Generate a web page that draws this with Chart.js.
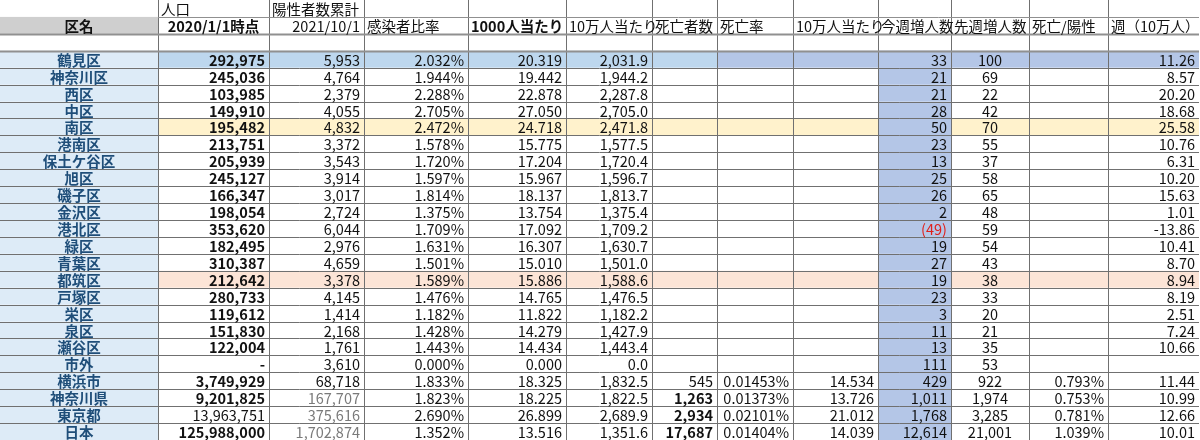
<!DOCTYPE html>
<html><head><meta charset="utf-8">
<script src="https://cdn.jsdelivr.net/npm/chart.js@4"></script>
<style>html,body{margin:0;padding:0;background:#fff}#w{width:1200px;height:440px}</style>
</head><body><div id="w"><canvas id="c"></canvas></div>
<script>
const headers1 = ["", "人口", "陽性者数累計", "", "", "", "", "", "", "", "", "", ""];
const headers2 = ["区名", "2020/1/1時点", "2021/10/1", "感染者比率", "1000人当たり", "10万人当たり", "死亡者数", "死亡率", "10万人当たり", "今週増人数", "先週増人数", "死亡/陽性", "週（10万人）"];
const districts = ["鶴見区","神奈川区","西区","中区","南区","港南区","保土ケ谷区","旭区","磯子区","金沢区","港北区","緑区","青葉区","都筑区","戸塚区","栄区","泉区","瀬谷区","市外","横浜市","神奈川県","東京都","日本"];
const population = ["292,975","245,036","103,985","149,910","195,482","213,751","205,939","245,127","166,347","198,054","353,620","182,495","310,387","212,642","280,733","119,612","151,830","122,004","-","3,749,929","9,201,825","13,963,751","125,988,000"];
const positives = ["5,953","4,764","2,379","4,055","4,832","3,372","3,543","3,914","3,017","2,724","6,044","2,976","4,659","3,378","4,145","1,414","2,168","1,761","3,610","68,718","167,707","375,616","1,702,874"];
const infectionRate = ["2.032%","1.944%","2.288%","2.705%","2.472%","1.578%","1.720%","1.597%","1.814%","1.375%","1.709%","1.631%","1.501%","1.589%","1.476%","1.182%","1.428%","1.443%","0.000%","1.833%","1.823%","2.690%","1.352%"];
const per1000 = ["20.319","19.442","22.878","27.050","24.718","15.775","17.204","15.967","18.137","13.754","17.092","16.307","15.010","15.886","14.765","11.822","14.279","14.434","0.000","18.325","18.225","26.899","13.516"];
const per100k = ["2,031.9","1,944.2","2,287.8","2,705.0","2,471.8","1,577.5","1,720.4","1,596.7","1,813.7","1,375.4","1,709.2","1,630.7","1,501.0","1,588.6","1,476.5","1,182.2","1,427.9","1,443.4","0.0","1,832.5","1,822.5","2,689.9","1,351.6"];
const deaths = ["","","","","","","","","","","","","","","","","","","","545","1,263","2,934","17,687"];
const deathRate = ["","","","","","","","","","","","","","","","","","","","0.01453%","0.01373%","0.02101%","0.01404%"];
const deathPer100k = ["","","","","","","","","","","","","","","","","","","","14.534","13.726","21.012","14.039"];
const thisWeek = ["33","21","21","28","50","23","13","25","26","2","(49)","19","27","19","23","3","11","13","111","429","1,011","1,768","12,614"];
const lastWeek = ["100","69","22","42","70","55","37","58","65","48","59","54","43","38","33","20","21","35","53","922","1,974","3,285","21,001"];
const deathPerPositive = ["","","","","","","","","","","","","","","","","","","","0.793%","0.753%","0.781%","1.039%"];
const weekPer100k = ["11.26","8.57","20.20","18.68","25.58","10.76","6.31","10.20","15.63","1.01","-13.86","10.41","8.70","8.94","8.19","2.51","7.24","10.66","","11.44","10.99","12.66","10.01"];

const columns = [districts, population, positives, infectionRate, per1000, per100k, deaths, deathRate, deathPer100k, thisWeek, lastWeek, deathPerPositive, weekPer100k];
const rowKeys = ["h1","h2","blank"].concat(districts);

// layout (styling only)
const colEdges = [0,158,269,364,468,566,652,717,793,878,951,1029,1108,1199];
const font = '"Noto Sans CJK JP","Noto Sans",sans-serif';

const tablePlugin = {
  id:'table',
  afterDraw(chart){
    const ctx = chart.ctx, xs = chart.scales.x, ys = chart.scales.y;
    const rh = ys.getPixelForValue(1) - ys.getPixelForValue(0);
    const X = i => xs.getPixelForValue(colEdges[i]);
    const top = r => ys.getPixelForValue(r) - rh/2;
    const fill = (c0,c1,r,col) => { ctx.fillStyle=col; ctx.fillRect(X(c0), top(r), X(c1)-X(c0), rh); };
    ctx.save();
    fill(0,1,1,'#cfcfcf');
    for (let i=0;i<districts.length;i++){
      const r=i+3;
      fill(0,1,r,'#ddebf7');
      if (districts[i]==="鶴見区"){ fill(1,7,r,'#bdd7ee'); fill(7,13,r,'#b4c6e7'); }
      if (districts[i]==="南区"){ fill(1,13,r,'#fff2cc'); }
      if (districts[i]==="都筑区"){ fill(1,13,r,'#fce4d6'); }
      fill(9,10,r,'#b4c6e7');
    }
    ctx.strokeStyle='#707070'; ctx.lineWidth=1;
    const yTop=top(0), yBot=top(rowKeys.length);
    for (let c=1;c<colEdges.length-1;c++){ ctx.beginPath(); ctx.moveTo(Math.round(X(c))+0.5,yTop); ctx.lineTo(Math.round(X(c))+0.5,yBot); ctx.stroke(); }
    for (let r=1;r<=rowKeys.length;r++){
      ctx.strokeStyle = r<=3 ? '#909090' : '#707070';
      ctx.lineWidth = (r===2||r===3)?2:1;
      const y=Math.round(top(r))+0.5;
      ctx.beginPath(); ctx.moveTo(r===1?X(1):0,y); ctx.lineTo(X(13),y); ctx.stroke();
    }
    ctx.textBaseline='middle';
    const txt=(s,c,r,align,opts={})=>{
      ctx.font=(opts.bold?'bold ':'')+'14.5px '+font;
      ctx.fillStyle=opts.color||'#111';
      ctx.textAlign=align;
      const y=ys.getPixelForValue(r)+1;
      const x= align==='left'?X(c)+3 : align==='right'?X(c+1)-4 : (X(c)+X(c+1))/2;
      ctx.fillText(s,x,y);
    };
    headers1.forEach((h,c)=>{ if(h) txt(h,c,0,'left'); });
    headers2.forEach((h,c)=>{
      if(c===0||c===1) txt(h,c,1,'center',{bold:true});
      else if(c===2) txt(h,c,1,'right');
      else txt(h,c,1,'left',{bold:c===4});
    });
    const gray = new Set(["167,707","375,616","1,702,874"]);
    for (let i=0;i<districts.length;i++){
      const r=i+3;
      txt(districts[i],0,r,'center',{bold:true,color:'#1f4e79'});
      for (let c=1;c<columns.length;c++){
        const v=columns[c][i]; if(!v) continue;
        let o={};
        if(c===1) o.bold = population[i]!=="13,963,751";
        if(c===2 && gray.has(v)) o.color='#7a7a7a';
        if(c===6 && v!=="545") o.bold=true;
        if(c===9 && v.startsWith('(')) o.color='#e0201b';
        txt(v,c,r,c===10?'center':'right',o);
      }
    }
    ctx.restore();
  }
};

new Chart(document.getElementById('c'),{
  type:'bar',
  data:{labels:rowKeys,datasets:[{data:[]}]},
  options:{
    indexAxis:'y',responsive:true,maintainAspectRatio:false,animation:false,
    layout:{padding:0},
    plugins:{legend:{display:false},tooltip:{enabled:false}},
    scales:{
      x:{type:'linear',min:0,max:1200,display:false},
      y:{type:'category',labels:rowKeys,display:false,offset:true}
    }
  },
  plugins:[tablePlugin]
});
</script></body></html>
